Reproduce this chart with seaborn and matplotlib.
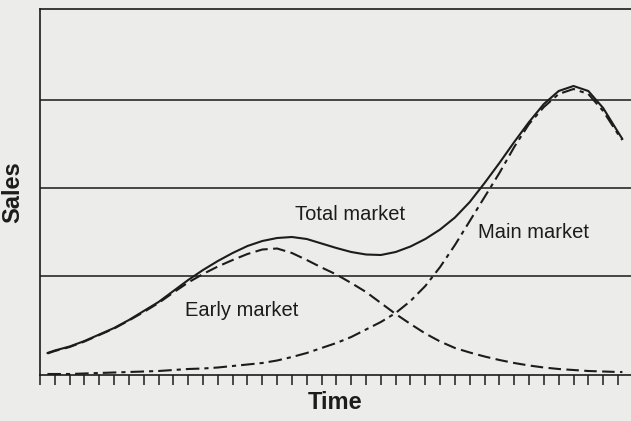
import numpy as np
import pandas as pd
import matplotlib
matplotlib.use("Agg")
import matplotlib.pyplot as plt
import seaborn as sns

# time in tick units (0 .. 39), sales in arbitrary units
time = [0.5, 1, 2, 3, 4, 5, 6, 7, 8, 9, 10, 11, 12, 13, 14, 15, 16, 17, 18, 19,
        20, 21, 22, 23, 24, 25, 26, 27, 28, 29, 30, 31, 32, 33, 34, 35, 36, 37,
        38, 39, 39.3]

total_market = [22, 24.5, 28.5, 34, 40.5, 47, 55, 64, 73, 84, 95, 105, 114, 122,
                129, 134, 137, 138, 136, 131.5, 127, 123, 120.5, 120, 123, 128.5,
                136, 145.5, 157.5, 173, 192, 212, 233, 253, 271, 284, 289, 284, 267,
                243, 236]

early_market = [21.5, 24, 28, 33.5, 40, 46.5, 54.5, 63, 72, 82.5, 92.5, 101, 108.5, 115,
                121, 125.5, 126.5, 122, 115, 107.5, 100.5, 92, 83, 72, 61, 51,
                41.5, 33.5, 27, 22.5, 18.5, 15, 12, 9.5, 7.5, 6, 5, 4, 3.5, 3, 3]

main_market = [1, 1, 1, 1.5, 2, 2.5, 3, 3.5, 4, 5, 6, 6.5, 7.5, 9, 10.5, 12, 14.5,
               18, 22, 27, 32, 38, 45.5, 53, 62, 74, 89, 108, 130, 154, 178, 202,
               228, 251, 268, 281, 286, 281, 264, 241, 235]

grid_levels = [99, 187, 275]
tick_positions = list(range(40))

df = pd.DataFrame({
    "time": time * 3,
    "sales": total_market + early_market + main_market,
    "market": ["Total"] * len(time) + ["Early"] * len(time) + ["Main"] * len(time),
})

sns.set_theme(style="white")
plt.rcParams["font.family"] = ["Liberation Sans", "DejaVu Sans"]

bg = "#ececea"
ink = "#1c1c1c"

fig = plt.figure(figsize=(6.31, 4.21), dpi=100, facecolor=bg)
ax = fig.add_axes([40 / 631, 46 / 421, 591 / 631, 366 / 421])
ax.set_facecolor(bg)

sns.lineplot(
    data=df, x="time", y="sales", hue="market", style="market",
    palette={"Total": ink, "Early": ink, "Main": ink},
    dashes={"Total": "", "Early": (6, 2.6), "Main": (6.5, 2.4, 2, 2.4)},
    linewidth=1.5, legend=False, ax=ax,
)

ax.set_xlim(0, 39.88)
ax.set_ylim(0, 366)

# horizontal rules
ax.set_yticks(grid_levels)
ax.set_yticklabels([])
ax.grid(axis="y", color="#2a2a2a", linewidth=1.2)
ax.grid(axis="x", visible=False)
ax.tick_params(axis="y", length=0)

ax.set_xticks(tick_positions)
ax.set_xticklabels([])
ax.tick_params(axis="x", direction="out", length=7, width=1.1, color=ink, bottom=True)

for side in ["left", "top", "bottom"]:
    ax.spines[side].set_color(ink)
    ax.spines[side].set_linewidth(1.2)
ax.spines["right"].set_visible(False)

ax.set_xlabel("Time", fontsize=17, fontweight="bold", color=ink, labelpad=1)
ax.set_ylabel("Sales", fontsize=17, fontweight="bold", color=ink, labelpad=8)

ax.text(20.9, 160, "Total market", fontsize=14.5, color=ink, ha="center", va="center")
ax.text(13.6, 65, "Early market", fontsize=14.5, color=ink, ha="center", va="center")
ax.text(33.3, 143, "Main market", fontsize=14.5, color=ink, ha="center", va="center")

fig.savefig("out.png", dpi=100, facecolor=bg)
